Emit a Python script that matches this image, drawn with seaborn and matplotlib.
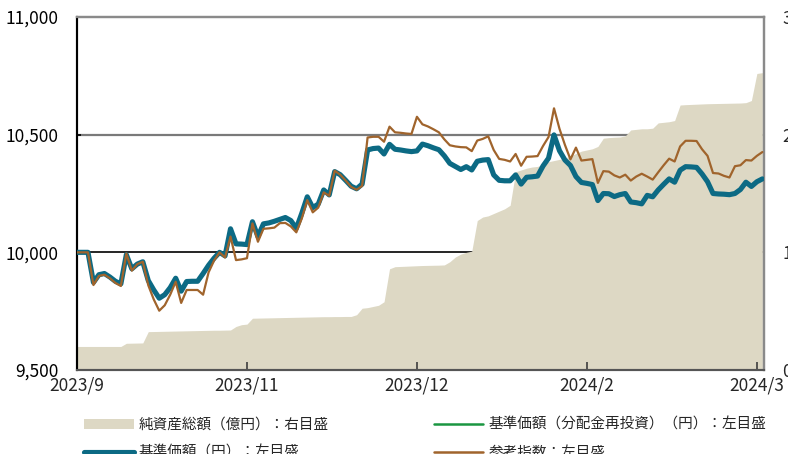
import numpy as np
import pandas as pd
import matplotlib
matplotlib.use("Agg")
import matplotlib.pyplot as plt
import seaborn as sns
from matplotlib.patches import Patch
from matplotlib.lines import Line2D

# ---- data (daily index positions) ----
nav = [10000, 10000, 10000, 9872, 9905, 9910, 9895, 9877, 9866, 9990,
       9930, 9950, 9960, 9880, 9840, 9805, 9820, 9850, 9890, 9835,
       9876, 9877, 9877, 9910, 9945, 9975, 10000, 9985, 10100, 10036,
       10035, 10033, 10130, 10067, 10121, 10125, 10132, 10140, 10148, 10135,
       10102, 10166, 10236, 10190, 10205, 10265, 10244, 10343, 10330, 10306,
       10281, 10270, 10290, 10435, 10441, 10443, 10418, 10459, 10438, 10435,
       10431, 10428, 10431, 10460, 10453, 10444, 10436, 10410, 10378, 10365,
       10352, 10364, 10350, 10387, 10392, 10394, 10329, 10306, 10304, 10304,
       10329, 10290, 10319, 10321, 10324, 10367, 10400, 10499, 10432, 10392,
       10369, 10322, 10297, 10293, 10288, 10220, 10250, 10249, 10237, 10245,
       10250, 10214, 10211, 10206, 10242, 10236, 10265, 10289, 10312, 10298,
       10349, 10364, 10363, 10361, 10333, 10300, 10250, 10248, 10247, 10245,
       10250, 10267, 10298, 10280, 10300, 10312]

nav_reinvested = list(nav)

benchmark = [10000, 10000, 10000, 9861, 9900, 9905, 9890, 9870, 9857, 9995,
             9922, 9950, 9960, 9860, 9800, 9752, 9775, 9820, 9875, 9785,
             9840, 9840, 9840, 9820, 9915, 9965, 10000, 9978, 10067, 9967,
             9970, 9975, 10123, 10045, 10100, 10102, 10105, 10124, 10125, 10110,
             10085, 10144, 10222, 10170, 10190, 10255, 10240, 10347, 10330, 10305,
             10278, 10266, 10282, 10488, 10491, 10491, 10470, 10534, 10510, 10508,
             10505, 10503, 10576, 10544, 10535, 10523, 10510, 10480, 10455, 10450,
             10447, 10446, 10430, 10475, 10482, 10493, 10435, 10397, 10393, 10386,
             10418, 10368, 10406, 10407, 10409, 10452, 10490, 10612, 10525, 10456,
             10395, 10445, 10390, 10393, 10396, 10295, 10345, 10343, 10327, 10318,
             10330, 10305, 10322, 10334, 10322, 10309, 10340, 10370, 10398, 10386,
             10450, 10474, 10474, 10473, 10438, 10410, 10337, 10335, 10325, 10318,
             10366, 10370, 10392, 10390, 10410, 10426]

net_assets = [0.20, 0.20, 0.20, 0.20, 0.20, 0.20, 0.20, 0.20, 0.20, 0.227,
              0.228, 0.229, 0.230, 0.326, 0.327, 0.328, 0.329, 0.330, 0.331, 0.332,
              0.333, 0.334, 0.335, 0.336, 0.337, 0.338, 0.338, 0.339, 0.340, 0.37,
              0.385, 0.39, 0.44, 0.441, 0.442, 0.443, 0.444, 0.445, 0.446, 0.447,
              0.448, 0.449, 0.450, 0.451, 0.452, 0.453, 0.453, 0.454, 0.454, 0.455,
              0.455, 0.47, 0.525, 0.53, 0.54, 0.55, 0.58, 0.86, 0.878, 0.880,
              0.882, 0.884, 0.886, 0.888, 0.889, 0.890, 0.891, 0.893, 0.92, 0.96,
              0.985, 1.00, 1.01, 1.27, 1.30, 1.31, 1.33, 1.35, 1.37, 1.40,
              1.685, 1.70, 1.715, 1.725, 1.73, 1.75, 1.77, 1.78, 1.79, 1.80,
              1.82, 1.84, 1.86, 1.87, 1.88, 1.90, 1.97, 1.975, 1.978, 1.98,
              1.99, 2.04, 2.045, 2.05, 2.05, 2.055, 2.10, 2.105, 2.11, 2.12,
              2.252, 2.255, 2.257, 2.259, 2.261, 2.263, 2.264, 2.265, 2.266, 2.267,
              2.268, 2.269, 2.272, 2.29, 2.52, 2.527]

tick_idx = [0, 31, 62, 93, 124]
tick_labels = ["2023/9", "2023/11", "2023/12", "2024/2", "2024/3"]
left_ticks = [9500, 10000, 10500, 11000]
right_ticks = [0, 1, 2, 3]
legend_labels = ["純資産総額（億円）：右目盛", "基準価額（円）：左目盛",
                 "基準価額（分配金再投資）（円）：左目盛", "参考指数：左目盛"]

df = pd.DataFrame({
    "i": np.arange(len(nav)),
    "nav": nav,
    "nav_re": nav_reinvested,
    "bm": benchmark,
    "assets": net_assets,
})

# ---- style ----
sns.set_theme(style="white")
plt.rcParams["font.family"] = ["Noto Sans CJK JP", "DejaVu Sans"]

C_AREA = "#ddd8c4"
C_NAV = "#0c6a84"
C_RE = "#1a9641"
C_BM = "#a0642c"

fig = plt.figure(figsize=(7.88, 4.54), dpi=100)
ax = fig.add_axes([77/788, 1-370/454, (764-77)/788, (370-17)/454])
axr = ax.twinx()
ax.set_zorder(axr.get_zorder() + 1)
ax.patch.set_visible(False)

# area on right axis
axr.axhline(1, color="black", lw=1.2, zorder=0.5)
axr.axhline(2, color="#7a7a7a", lw=1.6, zorder=0.5)
axr.fill_between(df["i"], 0, df["assets"], color=C_AREA, lw=0, zorder=1)
axr.set_ylim(0, 3)
axr.set_yticks(right_ticks)
axr.set_yticklabels([str(t) for t in right_ticks])

# lines on left axis
sns.lineplot(data=df, x="i", y="nav_re", ax=ax, color=C_RE, lw=1.5, zorder=2)
sns.lineplot(data=df, x="i", y="nav", ax=ax, color=C_NAV, lw=3.7, zorder=3)
sns.lineplot(data=df, x="i", y="bm", ax=ax, color=C_BM, lw=1.6, zorder=4)

ax.set_ylim(9500, 11000)
ax.set_xlim(0, 125.3)
ax.set_yticks(left_ticks)
ax.set_yticklabels([f"{t:,}" for t in left_ticks])
ax.set_xticks(tick_idx)
ax.set_xticklabels(tick_labels)
ax.set_xlabel("")
ax.set_ylabel("")
axr.set_ylabel("")

ax.tick_params(axis="y", direction="in", length=3, pad=13, labelsize=12.5,
               colors="black", left=True)
ax.tick_params(axis="x", direction="in", length=6, pad=5, labelsize=12.5,
               bottom=True, color="#444444")
axr.tick_params(axis="y", direction="in", length=5, pad=13, labelsize=12.5,
                right=True, color="#888888")

for a in (ax, axr):
    a.spines["left"].set_color("black")
    a.spines["left"].set_linewidth(1.5)
    a.spines["bottom"].set_color("#555555")
    a.spines["bottom"].set_linewidth(1.5)
    a.spines["top"].set_color("#8a8a8a")
    a.spines["top"].set_linewidth(1.6)
    a.spines["right"].set_color("#8a8a8a")
    a.spines["right"].set_linewidth(1.6)

handles = [
    Patch(facecolor=C_AREA, edgecolor="none"),
    Line2D([0], [0], color=C_NAV, lw=3.7),
    Line2D([0], [0], color=C_RE, lw=1.8),
    Line2D([0], [0], color=C_BM, lw=1.8),
]
fig.legend(handles, legend_labels, ncol=2, loc="upper left",
           bbox_to_anchor=(84/788, 1-418/454), frameon=False,
           fontsize=10.5, handlelength=3.4, handleheight=0.7, handletextpad=0.35,
           columnspacing=7.2, labelspacing=0.95, borderpad=0, borderaxespad=0)

fig.savefig("out.png", dpi=100)
